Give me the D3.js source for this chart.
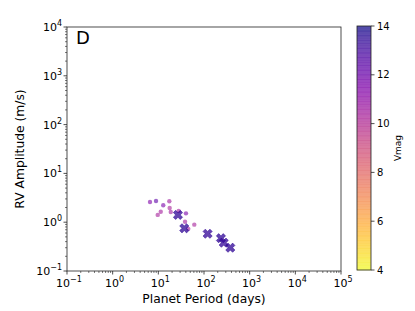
<!DOCTYPE html>
<html><head><meta charset="utf-8">
<script src="https://cdn.jsdelivr.net/npm/d3@7"></script>
<style>body{margin:0;background:#fff}svg{display:block;font-family:"DejaVu Sans",sans-serif}</style>
</head><body><svg id="c" width="415" height="311"></svg>
<script>
// data
const circlePeriod = [6.57, 8.9, 12.8, 17.4, 11.3, 9.7, 17.7, 18.7, 27.9, 40.3, 38.4, 61.3, 45.3];
const circleAmp    = [2.59, 2.72, 2.22, 2.68, 1.64, 1.41, 1.95, 1.62, 1.70, 1.52, 1.02, 0.89, 0.73];
const circleVmag   = [11.5, 12.3, 11.6, 10.6, 10.5, 10.4, 10.3, 10.5, 10.5, 11.6, 10.5, 10.4, 10.5];
const xPeriod = [26.9, 37, 120, 235, 270, 377];
const xAmp    = [1.41, 0.75, 0.58, 0.47, 0.38, 0.30];
const xVmag   = [13.4, 13.4, 13.3, 13.4, 13.3, 13.4];
const xTickExp = [-1, 0, 1, 2, 3, 4, 5];
const yTickExp = [-1, 0, 1, 2, 3, 4];
const cbTicks = [4, 6, 8, 10, 12, 14];
const panelLabel = "D";

const svg = d3.select("#c");
const L = 67, R = 341, T = 27, B = 271;
const x = d3.scaleLog().domain([1e-1, 1e5]).range([L, R]);
const y = d3.scaleLog().domain([1e-1, 1e4]).range([B, T]);
const cnorm = d3.scaleLinear().domain([4, 14]).range([1, 0]);
const color = v => d3.interpolatePlasma(cnorm(v));
const axisCol = "#222";

function sup(sel, e) {
  sel.append("tspan").text("10");
  sel.append("tspan").attr("dy", -5).attr("font-size", 8).text(e < 0 ? "\u2212" + String(-e) : String(e));
}

const minorX = [], minorY = [];
for (let e = -1; e < 5; e++) for (let m = 2; m < 10; m++) minorX.push(m * Math.pow(10, e));
for (let e = -1; e < 4; e++) for (let m = 2; m < 10; m++) minorY.push(m * Math.pow(10, e));

const g = svg.append("g");
g.selectAll(".xm").data(minorX).enter().append("line")
  .attr("x1", d => x(d)).attr("x2", d => x(d)).attr("y1", B).attr("y2", B + 2)
  .attr("stroke", axisCol).attr("stroke-width", 0.6);
g.selectAll(".xM").data(xTickExp).enter().append("line")
  .attr("x1", d => x(Math.pow(10, d))).attr("x2", d => x(Math.pow(10, d))).attr("y1", B).attr("y2", B + 3.5)
  .attr("stroke", axisCol).attr("stroke-width", 0.8);
xTickExp.forEach(e => {
  const t = g.append("text").attr("x", x(Math.pow(10, e)) + 2).attr("y", B + 16)
    .attr("text-anchor", "middle").attr("font-size", 11).attr("fill", "#000");
  sup(t, e);
});
g.selectAll(".ym").data(minorY).enter().append("line")
  .attr("y1", d => y(d)).attr("y2", d => y(d)).attr("x1", L).attr("x2", L - 2)
  .attr("stroke", axisCol).attr("stroke-width", 0.6);
g.selectAll(".yM").data(yTickExp).enter().append("line")
  .attr("y1", d => y(Math.pow(10, d))).attr("y2", d => y(Math.pow(10, d))).attr("x1", L).attr("x2", L - 3.5)
  .attr("stroke", axisCol).attr("stroke-width", 0.8);
yTickExp.forEach(e => {
  const t = g.append("text").attr("x", L - 5).attr("y", y(Math.pow(10, e)) + 4)
    .attr("text-anchor", "end").attr("font-size", 11).attr("fill", "#000");
  sup(t, e);
});

g.append("rect").attr("x", L).attr("y", T).attr("width", R - L).attr("height", B - T)
  .attr("fill", "none").attr("stroke", axisCol).attr("stroke-width", 0.8);

svg.append("text").attr("x", (L + R) / 2).attr("y", 303).attr("text-anchor", "middle")
  .attr("font-size", 12.3).text("Planet Period (days)");
svg.append("text").attr("transform", `translate(24,${(T + B) / 2}) rotate(-90)`).attr("text-anchor", "middle")
  .attr("font-size", 12.3).text("RV Amplitude (m/s)");
svg.append("text").attr("x", 76).attr("y", 44).attr("font-size", 18).text(panelLabel);

const circles = circlePeriod.map((p, i) => ({p, a: circleAmp[i], v: circleVmag[i]}));
svg.append("g").selectAll("circle").data(circles).enter().append("circle")
  .attr("cx", d => x(d.p)).attr("cy", d => y(d.a)).attr("r", 2.2)
  .attr("fill", d => color(d.v)).attr("fill-opacity", 0.6);

const xs = xPeriod.map((p, i) => ({p, a: xAmp[i], v: xVmag[i]}));
const s = 4.6, w = 2.3;
const xShape = { draw(ctx) {
  const pts = [[-s, -s + w], [-s + w, -s], [0, -w], [s - w, -s], [s, -s + w], [w, 0],
    [s, s - w], [s - w, s], [0, w], [-s + w, s], [-s, s - w], [-w, 0]];
  ctx.moveTo(pts[0][0], pts[0][1]);
  for (let i = 1; i < pts.length; i++) ctx.lineTo(pts[i][0], pts[i][1]);
  ctx.closePath();
}};
svg.append("g").selectAll("path").data(xs).enter().append("path")
  .attr("d", d3.symbol().type(xShape)())
  .attr("transform", d => `translate(${x(d.p)},${y(d.a)})`)
  .attr("fill", d => color(d.v)).attr("fill-opacity", 0.75)
  .attr("stroke", d => color(d.v)).attr("stroke-opacity", 0.9).attr("stroke-width", 0.6);

const cbL = 357, cbW = 14, cbT = 26, cbB = 270;
const cy = d3.scaleLinear().domain([4, 14]).range([cbB, cbT]);
const steps = d3.range(0, 100);
const cb = svg.append("g");
cb.selectAll("rect").data(steps).enter().append("rect")
  .attr("x", cbL).attr("width", cbW)
  .attr("y", i => cy(4 + (i + 1) * 0.1)).attr("height", (cbB - cbT) / 100 + 0.3)
  .attr("fill", i => color(4 + (i + 0.5) * 0.1)).attr("fill-opacity", 0.72);
cb.append("rect").attr("x", cbL).attr("y", cbT).attr("width", cbW).attr("height", cbB - cbT)
  .attr("fill", "none").attr("stroke", axisCol).attr("stroke-width", 0.8);
cb.selectAll(".ct").data(cbTicks).enter().append("line")
  .attr("x1", cbL + cbW).attr("x2", cbL + cbW + 3.5).attr("y1", d => cy(d)).attr("y2", d => cy(d))
  .attr("stroke", axisCol).attr("stroke-width", 0.8);
cb.selectAll(".cl").data(cbTicks).enter().append("text")
  .attr("x", cbL + cbW + 6).attr("y", d => cy(d) + 3.5).attr("font-size", 10).text(d => d);
svg.append("text").attr("transform", `translate(401,148) rotate(-90)`).attr("text-anchor", "middle")
  .attr("font-size", 9).text("Vmag");
</script></body></html>
